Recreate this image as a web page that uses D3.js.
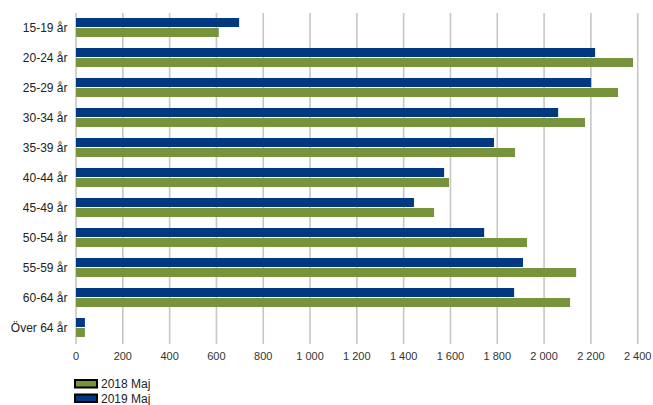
<!DOCTYPE html>
<html><head><meta charset="utf-8">
<script src="https://cdn.jsdelivr.net/npm/d3@7"></script>
<style>body{margin:0;background:#fff}svg{display:block}text{font-family:"Liberation Sans",Arial,sans-serif}</style>
</head><body>
<svg id="c" width="653" height="405"></svg>
<script>
const categories = ["15-19 år","20-24 år","25-29 år","30-34 år","35-39 år","40-44 år","45-49 år","50-54 år","55-59 år","60-64 år","Över 64 år"];
const series2019 = [697, 2218, 2201, 2060, 1786, 1573, 1444, 1744, 1910, 1872, 38];
const series2018 = [610, 2380, 2316, 2175, 1876, 1594, 1530, 1927, 2137, 2111, 38];
const seriesNames = ["2018 Maj", "2019 Maj"];
const tickValues = [0,200,400,600,800,1000,1200,1400,1600,1800,2000,2200,2400];
const colors = {"2018 Maj":"#77933c","2019 Maj":"#003882"};

const svg = d3.select("#c");
const x = d3.scaleLinear().domain([0,2400]).range([76,637.7]);
const y = d3.scaleBand().domain(categories).range([13,343]);

// gridlines
svg.append("g").selectAll("line").data(tickValues).join("line")
  .attr("x1",d=>x(d)).attr("x2",d=>x(d)).attr("y1",13).attr("y2",344)
  .attr("stroke","#c6c6c6").attr("stroke-width",1.6);

// x tick labels
const fmt = v => d3.format(",")(v).replace(/,/g,"\u00a0");
svg.append("g").selectAll("text").data(tickValues).join("text")
  .attr("x",d=>x(d)).attr("y",360).attr("text-anchor","middle")
  .attr("font-size",11).attr("fill","#333").text(fmt);

// y labels
svg.append("g").selectAll("text").data(categories).join("text")
  .attr("x",67.5).attr("y",d=>y(d)+y.bandwidth()/2+4.3).attr("text-anchor","end")
  .attr("font-size",12).attr("fill","#222").text(d=>d);

const data = categories.map((c,i)=>({c, v19:series2019[i], v18:series2018[i]}));
const bh = 9;
svg.append("g").selectAll("rect").data(data).join("rect")
  .attr("x",x(0)).attr("y",d=>y(d.c)+5).attr("height",bh)
  .attr("width",d=>x(d.v19)-x(0)).attr("fill",colors["2019 Maj"]);
svg.append("g").selectAll("rect").data(data).join("rect")
  .attr("x",x(0)).attr("y",d=>y(d.c)+5+bh+1).attr("height",bh)
  .attr("width",d=>x(d.v18)-x(0)).attr("fill",colors["2018 Maj"]);

// legend
const lg = svg.append("g").selectAll("g").data(seriesNames).join("g")
  .attr("transform",(d,i)=>`translate(74,${379+i*14.5})`);
lg.append("rect").attr("x",1).attr("y",1).attr("width",22).attr("height",7.5)
  .attr("fill",d=>colors[d]).attr("stroke","#000").attr("stroke-width",2);
lg.append("text").attr("x",27).attr("y",9).attr("font-size",12).attr("fill","#222").text(d=>d);
</script>
</body></html>
